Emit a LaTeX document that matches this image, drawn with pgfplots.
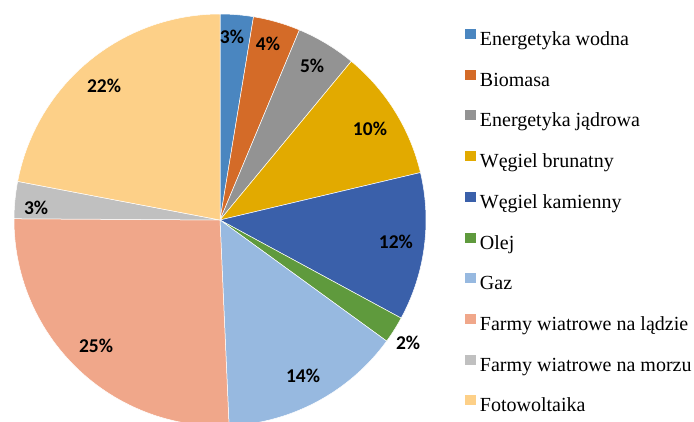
\documentclass[border=0pt]{standalone}
\usepackage{pgfplots}
\pgfplotsset{compat=1.18}
\usepackage{fontspec}
\setmainfont{Liberation Serif}
\newfontfamily\lblfont{Carlito}
\definecolor{cWodna}{HTML}{4A86C0}
\definecolor{cBio}{HTML}{D46B28}
\definecolor{cJadr}{HTML}{939393}
\definecolor{cBrun}{HTML}{E2AA00}
\definecolor{cKam}{HTML}{3A60AA}
\definecolor{cOlej}{HTML}{5F9A3D}
\definecolor{cGaz}{HTML}{97B9E0}
\definecolor{cLad}{HTML}{F0A78A}
\definecolor{cMorz}{HTML}{C0C0C0}
\definecolor{cFoto}{HTML}{FDD088}
\begin{document}
\begin{tikzpicture}
% shares (%), clockwise from 12 o'clock
\pgfmathsetmacro\aA{90}
\pgfmathsetmacro\aB{\aA-3.6*2.6}
\pgfmathsetmacro\aC{\aB-3.6*3.7}
\pgfmathsetmacro\aD{\aC-3.6*4.7}
\pgfmathsetmacro\aE{\aD-3.6*10.3}
\pgfmathsetmacro\aF{\aE-3.6*11.6}
\pgfmathsetmacro\aG{\aF-3.6*2.1}
\pgfmathsetmacro\aH{\aG-3.6*14.3}
\pgfmathsetmacro\aI{\aH-3.6*25.8}
\pgfmathsetmacro\aJ{\aI-3.6*2.9}
\pgfmathsetmacro\aK{\aJ-3.6*22.0}
\begin{axis}[
  hide axis, scale only axis,
  x=206pt, y=206pt,
  xmin=-1.068, xmax=2.301, ymin=-0.976, ymax=1.068,
  legend style={at={(axis cs:1.189,0.927)}, anchor=north west, draw=none, fill=none,
    inner sep=0pt, outer sep=0pt, font=\fontsize{20}{24}\selectfont, row sep=19.2pt,
    nodes={inner sep=0pt, text height=14pt, text depth=5pt},
    /tikz/every odd column/.append style={column sep=4pt}},
  legend cell align=left,
  legend image code/.code={\fill[#1,draw=none] (0pt,2pt) rectangle (11pt,12pt);},
  every axis plot/.append style={draw=white, line width=0.5pt, samples=60},
]
\addplot[fill=cWodna, domain=\aB:\aA] ({cos(x)},{sin(x)}) -- (axis cs:0,0) -- cycle;
\addlegendentry{Energetyka wodna}
\addplot[fill=cBio, domain=\aC:\aB] ({cos(x)},{sin(x)}) -- (axis cs:0,0) -- cycle;
\addlegendentry{Biomasa}
\addplot[fill=cJadr, domain=\aD:\aC] ({cos(x)},{sin(x)}) -- (axis cs:0,0) -- cycle;
\addlegendentry{Energetyka jądrowa}
\addplot[fill=cBrun, domain=\aE:\aD] ({cos(x)},{sin(x)}) -- (axis cs:0,0) -- cycle;
\addlegendentry{Węgiel brunatny}
\addplot[fill=cKam, domain=\aF:\aE] ({cos(x)},{sin(x)}) -- (axis cs:0,0) -- cycle;
\addlegendentry{Węgiel kamienny}
\addplot[fill=cOlej, domain=\aG:\aF] ({cos(x)},{sin(x)}) -- (axis cs:0,0) -- cycle;
\addlegendentry{Olej}
\addplot[fill=cGaz, domain=\aH:\aG] ({cos(x)},{sin(x)}) -- (axis cs:0,0) -- cycle;
\addlegendentry{Gaz}
\addplot[fill=cLad, domain=\aI:\aH] ({cos(x)},{sin(x)}) -- (axis cs:0,0) -- cycle;
\addlegendentry{Farmy wiatrowe na lądzie}
\addplot[fill=cMorz, domain=\aJ:\aI] ({cos(x)},{sin(x)}) -- (axis cs:0,0) -- cycle;
\addlegendentry{Farmy wiatrowe na morzu}
\addplot[fill=cFoto, domain=\aK:\aJ] ({cos(x)},{sin(x)}) -- (axis cs:0,0) -- cycle;
\addlegendentry{Fotowoltaika}
\begin{scope}[every node/.style={font=\lblfont\bfseries\fontsize{19.5}{22}\selectfont, inner sep=0pt}]
\node at (axis cs:0.058,0.888) {3\%};
\node at (axis cs:0.233,0.854) {4\%};
\node at (axis cs:0.447,0.748) {5\%};
\node at (axis cs:0.728,0.442) {10\%};
\node at (axis cs:0.854,-0.107) {12\%};
\node at (axis cs:0.913,-0.597) {2\%};
\node at (axis cs:0.403,-0.757) {14\%};
\node at (axis cs:-0.602,-0.612) {25\%};
\node at (axis cs:-0.893,0.058) {3\%};
\node at (axis cs:-0.563,0.650) {22\%};
\end{scope}
\end{axis}
\pgfresetboundingbox
\path (current axis.south west) rectangle (current axis.north east);
\end{tikzpicture}
\end{document}
